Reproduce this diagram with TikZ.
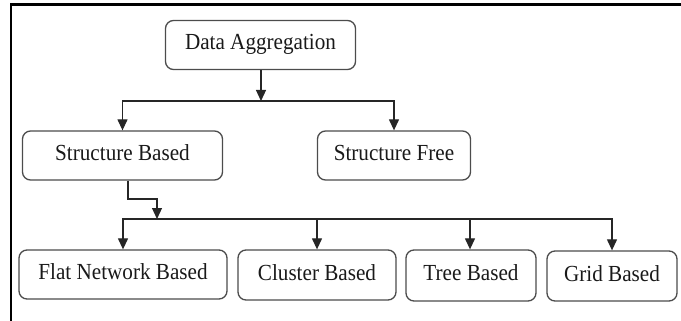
\documentclass[tikz,border=0pt]{standalone}
\usepackage{fontspec}
\setmainfont{Liberation Serif}[FakeStretch=0.92]
\usetikzlibrary{arrows.meta}
\begin{document}
\begin{tikzpicture}[x=1pt,y=-1pt,
  box/.style={draw=black!70, line width=1.3pt, rounded corners=8pt,
    inner sep=0pt, minimum height=49pt, text height=15pt, text depth=5pt,
    text=black!90, font=\fontsize{23}{27}\selectfont},
  arr/.style={draw=black!85, line width=1.2pt,
    -{Triangle[width=10pt,length=11pt]}}]
\useasboundingbox (0,0) rectangle (681,321);
% outer frame (left and top edges)
\draw[line width=2.6pt, line cap=rect] (11,321) -- (11,4.5) -- (681,4.5);

% nodes
\node[box, minimum width=190pt] (agg) at (260.5,45) {Data Aggregation};
\node[box, minimum width=200pt] (sb) at (122.5,155.5) {Structure Based};
\node[box, minimum width=153pt] (sf) at (394,155.5) {Structure Free};
\node[box, minimum width=208pt] (flat) at (123,274.5) {Flat Network Based};
\node[box, minimum width=158pt, minimum height=50pt] (clus) at (317,275) {Cluster Based};
\node[box, minimum width=130pt, minimum height=51pt] (tree) at (471,275.5) {Tree Based};
\node[box, minimum width=130pt, minimum height=50pt] (grid) at (612,276) {Grid Based};

% junctions
\coordinate (j1) at (261,101);
\coordinate (k) at (157,199);
\coordinate (j2) at (157,219);

% first level
\draw[arr] (agg.south -| j1) -- (j1);
\draw[arr] (j1) -| (sb.north);
\draw[arr] (j1) -| (sf.north);

% second level
\draw[arr] ([xshift=5.5pt]sb.south) |- (k) -- (j2);
\draw[arr] (j2) -| (flat.north);
\draw[arr] (j2) -| (clus.north);
\draw[arr] (j2) -| ([xshift=-1pt]tree.north);
\draw[arr] (j2) -| (grid.north);
\end{tikzpicture}
\end{document}
